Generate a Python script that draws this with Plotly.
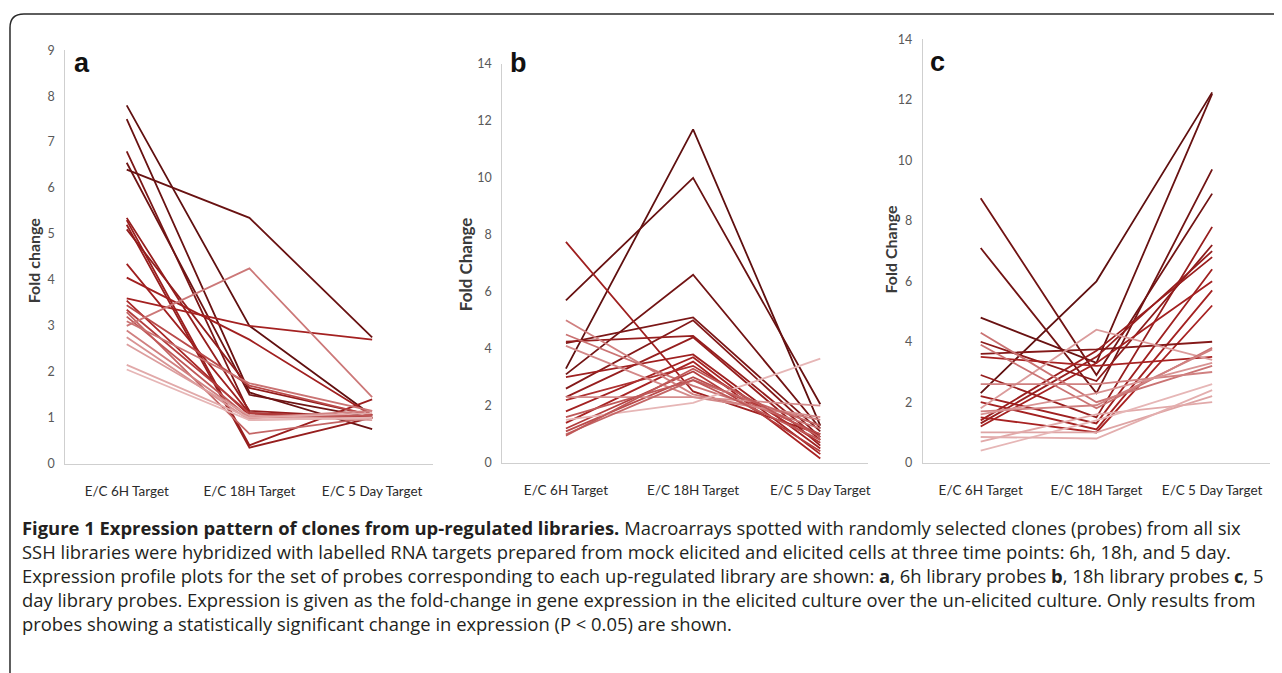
import plotly.graph_objects as go

# page body has an 8px margin, so the figure is drawn 8px in from the window edge
OX, OY = 8, 8
W, H = 1282 - OX, 673 - OY


def px(x):
    return (x - OX) / W


def py(y):
    return 1 - (y - OY) / H


categories = ["E/C 6H Target", "E/C 18H Target", "E/C 5 Day Target"]

# ---- panel a: 6h library probes (6H, 18H, 5 Day) ----
a_6h  = [7.8, 7.5, 6.8, 6.55, 6.4, 5.35, 5.3, 5.2, 5.1, 4.35, 4.05, 3.6, 3.55, 3.45, 3.35, 3.3, 3.2, 3.0, 3.1, 2.9, 2.75, 2.6, 2.15, 2.05]
a_18h = [3.0, 1.55, 1.1, 1.5, 5.35, 1.15, 0.4, 0.35, 1.65, 1.1, 2.7, 3.0, 1.05, 1.7, 1.1, 0.65, 1.0, 4.25, 1.75, 1.0, 0.95, 1.05, 1.0, 0.95]
a_5d  = [1.05, 0.75, 1.0, 1.0, 2.75, 1.0, 1.4, 1.0, 1.05, 1.0, 1.05, 2.7, 1.0, 1.05, 1.0, 1.0, 1.05, 1.45, 1.15, 1.15, 1.0, 0.95, 1.1, 1.0]

# ---- panel b: 18h library probes ----
b_6h  = [3.3, 5.7, 3.1, 7.75, 4.2, 2.6, 4.25, 2.3, 3.0, 1.8, 1.4, 2.2, 1.2, 1.1, 5.0, 4.5, 4.1, 2.3, 1.5, 1.0, 0.95, 1.6]
b_18h = [11.7, 10.0, 6.6, 2.5, 5.1, 5.0, 4.45, 4.4, 3.8, 3.7, 3.55, 3.4, 3.2, 3.0, 2.4, 2.7, 2.3, 2.3, 2.1, 2.9, 3.3, 2.9]
b_5d  = [1.3, 2.05, 1.2, 1.0, 1.1, 0.9, 0.8, 0.6, 0.5, 0.3, 0.15, 0.7, 0.4, 1.0, 1.5, 1.2, 1.6, 2.0, 3.65, 1.3, 0.9, 0.8]

# ---- panel c: 5 day library probes ----
c_6h  = [2.3, 4.8, 7.1, 8.75, 2.9, 4.0, 1.3, 1.4, 2.2, 1.2, 2.0, 1.5, 3.6, 3.5, 1.8, 4.3, 3.9, 1.7, 2.6, 1.6, 1.0, 0.7, 0.4, 0.85]
c_18h = [6.0, 3.3, 2.3, 2.9, 1.5, 2.7, 3.5, 3.7, 1.3, 3.3, 1.1, 1.0, 3.75, 3.2, 4.4, 2.0, 1.8, 1.9, 2.6, 2.3, 1.0, 1.6, 1.4, 0.8]
c_5d  = [12.25, 12.2, 9.7, 8.9, 7.8, 7.2, 7.0, 6.8, 6.4, 6.0, 5.7, 5.2, 4.0, 3.5, 3.4, 3.2, 3.8, 3.75, 3.0, 3.3, 2.2, 2.0, 2.6, 2.4]

# styling (shade 0 = darkest maroon, 1 = lightest pink)
a_shade = [0.0, 0.05, 0.15, 0.08, 0.05, 0.3, 0.32, 0.3, 0.28, 0.35, 0.36, 0.38, 0.42, 0.55, 0.5, 0.65, 0.6, 0.72, 0.7, 0.75, 0.82, 0.86, 0.9, 0.95]
b_shade = [0.0, 0.05, 0.1, 0.35, 0.15, 0.2, 0.3, 0.3, 0.35, 0.38, 0.4, 0.45, 0.5, 0.55, 0.75, 0.7, 0.78, 0.8, 0.95, 0.65, 0.6, 0.6]
c_shade = [0.0, 0.05, 0.1, 0.1, 0.3, 0.25, 0.3, 0.32, 0.35, 0.38, 0.38, 0.4, 0.2, 0.4, 0.85, 0.7, 0.7, 0.75, 0.75, 0.82, 0.88, 0.9, 0.95, 0.92]

STOPS = [(0.0, (96, 16, 16)), (0.4, (168, 34, 34)), (1.0, (236, 196, 196))]


def shade_color(s):
    for (p0, c0), (p1, c1) in zip(STOPS[:-1], STOPS[1:]):
        if s <= p1:
            t = (s - p0) / (p1 - p0)
            rgb = [round(c0[i] + (c1[i] - c0[i]) * t) for i in range(3)]
            return "rgb(%d,%d,%d)" % tuple(rgb)
    return "rgb(%d,%d,%d)" % STOPS[-1][1]


# panel geometry in window pixels
panels = [
    dict(x0=65.5, x1=434.5, xmax=2.5, yb=466, yt=43, ymax=9, dt=1,
         cols=(a_6h, a_18h, a_5d), shade=a_shade),
    dict(x0=503.5, x1=870, xmax=2.375, yb=465, yt=57, ymax=14, dt=2,
         cols=(b_6h, b_18h, b_5d), shade=b_shade),
    dict(x0=925, x1=1273, xmax=2.5, yb=465, yt=32, ymax=14, dt=2,
         cols=(c_6h, c_18h, c_5d), shade=c_shade),
]

fig = go.Figure()
layout = dict(width=W, height=H, margin=dict(l=0, r=0, t=0, b=0),
              paper_bgcolor="white", plot_bgcolor="rgba(0,0,0,0)",
              showlegend=False)

tick_font = dict(family="Lato, Open Sans, sans-serif", size=12.5, color="#595959")
cat_font = dict(family="Lato, Open Sans, sans-serif", size=13.5, color="#2b2b2b")

for i, p in enumerate(panels):
    xa = "xaxis" if i == 0 else "xaxis%d" % (i + 1)
    ya = "yaxis" if i == 0 else "yaxis%d" % (i + 1)
    xr = "x" if i == 0 else "x%d" % (i + 1)
    yr = "y" if i == 0 else "y%d" % (i + 1)
    layout[xa] = dict(domain=[px(p["x0"]), px(p["x1"])], range=[-0.5, p["xmax"]],
                      type="category", anchor=yr, showgrid=False, zeroline=False,
                      showline=True, linecolor="#cfcfcf", linewidth=1,
                      ticks="", tickfont=cat_font, ticklabelstandoff=15,
                      fixedrange=True)
    layout[ya] = dict(domain=[py(p["yb"]), py(p["yt"])], range=[0, p["ymax"]],
                      anchor=xr, showgrid=False, zeroline=False, showline=True,
                      linecolor="#cfcfcf", linewidth=1, ticks="", dtick=p["dt"],
                      tickfont=tick_font, ticklabelstandoff=7, fixedrange=True)
    c6, c18, c5 = p["cols"]
    for k in range(len(c6)):
        fig.add_trace(go.Scatter(
            x=categories, y=[c6[k], c18[k], c5[k]], mode="lines",
            line=dict(color=shade_color(p["shade"][k]), width=1.8),
            xaxis=xr, yaxis=yr, hoverinfo="skip"))

fig.update_layout(**layout)

annotations = []
# panel letters
for letter, (lx, ly) in zip(["a", "b", "c"], [(82, 56), (520, 56), (940, 55)]):
    annotations.append(dict(text="<b>%s</b>" % letter, x=px(lx), y=py(ly),
                            xref="paper", yref="paper", showarrow=False,
                            xanchor="center", yanchor="middle",
                            font=dict(family="Liberation Sans, Arial, sans-serif",
                                      size=27, color="#111")))
# y titles
for txt, (tx, ty), fs in zip(["Fold change", "Fold Change", "Fold Change"],
                             [(33, 258), (466, 262), (893, 246)], [16, 17, 16]):
    annotations.append(dict(text="<b>%s</b>" % txt, x=px(tx), y=py(ty),
                            xref="paper", yref="paper", showarrow=False,
                            textangle=-90, xanchor="center", yanchor="middle",
                            font=dict(family="Lato, Open Sans, sans-serif",
                                      size=fs, color="#3a3a3a")))

caption_lines = [
    "<b>Figure 1 Expression pattern of clones from up-regulated libraries.</b> Macroarrays spotted with randomly selected clones (probes) from all six",
    "SSH libraries were hybridized with labelled RNA targets prepared from mock elicited and elicited cells at three time points: 6h, 18h, and 5 day.",
    "Expression profile plots for the set of probes corresponding to each up-regulated library are shown: <b>a</b>, 6h library probes <b>b</b>, 18h library probes <b>c</b>, 5",
    "day library probes. Expression is given as the fold-change in gene expression in the elicited culture over the un-elicited culture. Only results from",
    "probes showing a statistically significant change in expression (P < 0.05) are shown.",
]
cap_size = 18.4
line_h = 1.3 * cap_size
first_line_y = 533
annotations.append(dict(text="<br>".join(caption_lines), x=px(20),
                        y=py(first_line_y + 2 * line_h),
                        xref="paper", yref="paper", showarrow=False,
                        xanchor="left", yanchor="middle", align="left",
                        font=dict(family="Open Sans, sans-serif", size=cap_size,
                                  color="#231f20")))

fig.update_layout(annotations=annotations)

# rounded frame (top-left corner visible, continues past right/bottom edges)
r = 14
x0, y0, x1, y1 = 10, 6, 1300, 700
path = ("M %f %f L %f %f Q %f %f %f %f L %f %f L %f %f L %f %f Z" % (
    px(x0), py(y1), px(x0), py(y0 + r), px(x0), py(y0),
    px(x0 + r), py(y0), px(x1), py(y0), px(x1), py(y1),
    px(x0), py(y1)))
fig.add_shape(type="path", path=path, xref="paper", yref="paper",
              line=dict(color="#2a2a2a", width=1.5), fillcolor="rgba(0,0,0,0)",
              layer="below")

fig.write_html("out.html", config={"displayModeBar": False})
